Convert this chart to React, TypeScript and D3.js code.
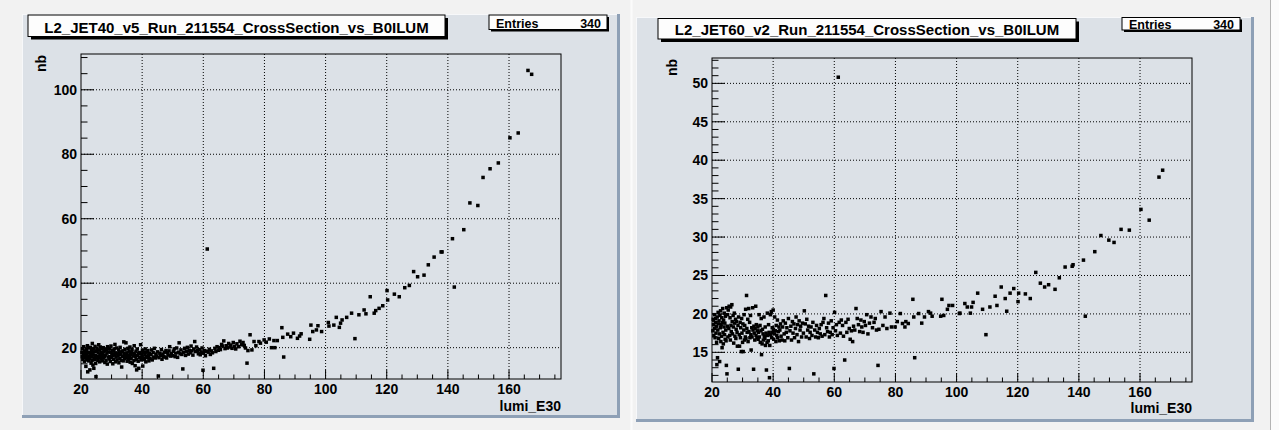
import React from 'react';
import * as d3 from 'd3';

// lumi sections shared by both triggers (lumi_E30)
const lumi = [
  20.3, 20.4, 20.5, 20.6, 20.8, 20.9, 21.0, 21.1, 21.2, 21.3,
  21.4, 21.5, 21.6, 21.7, 21.8, 21.9, 22.0, 22.1, 22.2, 22.3,
  22.4, 22.5, 22.6, 22.7, 22.8, 22.9, 23.0, 23.1, 23.2, 23.3,
  23.4, 23.5, 23.6, 23.7, 23.8, 23.9, 24.0, 24.1, 24.2, 24.3,
  24.4, 24.5, 24.6, 24.7, 24.8, 24.9, 25.0, 25.1, 25.2, 25.3,
  25.5, 25.6, 25.8, 25.9, 26.0, 26.1, 26.2, 26.3, 26.5, 26.6,
  26.7, 26.9, 27.0, 27.1, 27.3, 27.4, 27.5, 27.7, 27.8, 27.9,
  28.0, 28.2, 28.3, 28.5, 28.6, 28.7, 28.9, 29.0, 29.2, 29.3,
  29.4, 29.6, 29.7, 29.8, 30.0, 30.1, 30.2, 30.4, 30.5, 30.6,
  30.7, 30.9, 31.0, 31.1, 31.3, 31.4, 31.5, 31.7, 31.8, 32.0,
  32.1, 32.3, 32.4, 32.6, 32.7, 32.8, 33.0, 33.1, 33.3, 33.4,
  33.6, 33.7, 33.8, 34.0, 34.1, 34.3, 34.4, 34.5, 34.7, 34.8,
  35.0, 35.1, 35.2, 35.4, 35.5, 35.7, 35.8, 36.0, 36.1, 36.2,
  36.4, 36.5, 36.7, 36.8, 37.0, 37.1, 37.3, 37.4, 37.5, 37.7,
  37.8, 38.0, 38.1, 38.2, 38.4, 38.5, 38.7, 38.8, 38.9, 39.1,
  39.2, 39.4, 39.5, 39.7, 39.8, 40.0, 40.1, 40.2, 40.4, 40.5,
  40.7, 40.9, 41.0, 41.2, 41.4, 41.5, 41.7, 41.9, 42.0, 42.2,
  42.4, 42.6, 42.9, 43.1, 43.3, 43.6, 43.8, 44.0, 44.3, 44.5,
  44.8, 45.0, 45.3, 45.5, 45.8, 46.0, 46.3, 46.5, 46.8, 47.0,
  47.3, 47.5, 47.8, 48.0, 48.3, 48.5, 48.8, 49.0, 49.3, 49.6,
  49.9, 50.2, 50.5, 50.8, 51.0, 51.3, 51.6, 51.9, 52.1, 52.4,
  52.7, 53.0, 53.3, 53.6, 53.9, 54.2, 54.5, 54.8, 55.1, 55.4,
  55.7, 56.0, 56.3, 56.6, 56.9, 57.2, 57.5, 57.8, 58.1, 58.4,
  58.7, 59.0, 59.3, 59.6, 59.9, 60.1, 60.4, 60.7, 61.0, 61.3,
  61.6, 62.0, 62.3, 62.7, 63.0, 63.4, 63.8, 64.1, 64.5, 64.9,
  65.2, 65.6, 66.0, 66.3, 66.7, 67.1, 67.5, 67.9, 68.3, 68.7,
  69.0, 69.4, 69.8, 70.2, 70.6, 71.0, 71.5, 72.0, 72.5, 73.0,
  73.4, 73.8,
  74.3, 74.6, 75.3, 75.9, 76.6, 77.2, 78.2, 78.7, 79.9, 80.6,
  81.6, 82.3, 83.1, 83.4, 84.2, 85.7, 86.0, 86.3, 87.6, 88.6,
  89.5, 90.8, 91.5, 92.0, 94.8, 95.2, 95.8, 97.0, 97.5, 98.7,
  100.9, 101.1, 102.7, 103.5, 104.5, 104.9, 105.4, 106.9, 108.5, 109.6,
  110.9, 112.6, 113.2, 114.6, 115.9, 116.4, 117.5,
  118.7, 120.1, 120.3, 122.5, 124.1, 125.9, 127.4, 128.8, 130.1, 132.2,
  133.6, 135.5, 137.8, 138.1, 141.5, 142.1, 145.2, 147.2, 149.8, 151.5,
  153.8, 156.5, 160.3, 163.0, 166.2, 167.4,
];

// L2_JET40 cross section (nb)
const jet40Nb = [
  18.5, 17.2, 19.6, 16.4, 18.0, 20.3, 17.6, 15.8, 19.0, 18.3,
  16.9, 18.8, 14.2, 17.4, 19.5, 16.2, 18.1, 20.6, 12.5, 17.0,
  18.6, 15.9, 19.9, 17.3, 16.6, 13.1, 18.4, 20.1, 17.8, 15.2,
  17.1, 19.2, 16.0, 21.3, 18.2, 14.6, 17.7, 19.6, 13.6, 16.8,
  18.7, 16.3, 20.4, 17.5, 15.1, 11.0, 18.9, 16.9, 19.8, 17.3,
  16.1, 18.4, 20.9, 17.0, 19.3, 15.6, 17.9, 20.2, 16.6, 18.6,
  17.4, 19.7, 15.9, 18.2, 20.0, 16.8, 18.9, 17.2, 15.4, 19.1,
  17.7, 16.0, 19.4, 18.3, 14.9, 20.3, 17.1, 18.7, 16.5, 19.8,
  17.2, 15.7, 18.6, 20.5, 16.9, 18.0, 19.2, 15.0, 17.6, 18.9,
  16.4, 19.6, 17.8, 21.0, 15.6, 18.4, 17.1, 19.9, 16.2, 18.1,
  17.5, 19.3, 15.3, 18.6, 16.7, 20.1, 17.9, 16.1, 14.0, 18.8,
  17.3, 19.0, 15.9, 21.8, 18.2, 16.6, 19.5, 17.6, 21.5, 16.9,
  18.4, 15.8, 17.7, 19.8, 16.4, 18.9, 17.1, 20.2, 15.5, 17.9,
  16.7, 18.6, 19.5, 15.1, 17.4, 18.3, 16.0, 20.6, 17.8, 14.4,
  17.2, 18.9, 16.3, 13.1, 19.6, 17.6, 15.8, 18.2, 13.6, 16.9,
  18.5, 17.0, 20.9, 16.2, 18.1, 17.4, 19.2, 14.3, 16.8, 18.6,
  16.3, 17.9, 19.6, 15.6, 17.3, 18.6, 16.9, 19.1, 17.6, 15.9,
  18.2, 16.6, 17.8, 19.3, 16.2, 18.5, 17.1, 19.8, 16.8, 18.0,
  17.4, 18.7, 11.2, 16.9, 18.3, 17.6, 19.4, 16.4, 18.0, 17.2,
  18.6, 17.1, 19.1, 16.8, 18.4, 17.7, 19.0, 20.3, 17.4, 18.2,
  17.5, 18.9, 19.6, 17.2, 18.3, 19.9, 17.0, 18.6, 21.5, 18.1,
  19.3, 17.9, 13.4, 18.6, 19.8, 17.6, 18.9, 20.1, 18.0, 19.2,
  18.4, 20.5, 19.0, 17.7, 19.6, 21.9, 18.8, 20.2, 19.1, 18.1,
  19.4, 17.8, 18.7, 19.9, 13.0, 18.3, 19.1, 17.5, 18.9, 50.6,
  18.6, 19.5, 17.9, 19.0, 18.4, 13.6, 19.8, 18.8, 20.3, 19.2,
  20.0, 19.4, 21.0, 20.5, 22.1, 19.7, 20.6, 19.9, 21.3, 20.2,
  20.8, 19.8, 21.6, 20.4, 19.6, 21.2, 20.3, 22.0, 20.9, 21.6,
  20.7, 19.9,
  15.2, 19.1, 24.0, 19.3, 21.9, 20.6, 21.9, 21.4, 22.4, 21.7,
  22.7, 20.0, 22.2, 20.0, 22.2, 26.2, 23.2, 17.1, 24.2, 23.4,
  24.5, 22.9, 23.6, 24.3, 22.6, 27.0, 25.0, 25.5, 26.8, 25.0,
  27.8, 26.7, 27.0, 29.4, 26.3, 27.6, 28.6, 29.4, 30.7, 22.8,
  30.2, 31.7, 30.5, 35.8, 30.7, 31.5, 32.2,
  33.0, 37.7, 34.8, 36.6, 35.8, 38.6, 39.3, 43.6, 42.0, 42.5,
  45.7, 48.1, 49.7, 49.7, 53.8, 38.8, 56.6, 64.9, 64.1, 72.8,
  75.5, 77.3, 85.1, 86.6, 106.0, 104.8,
];

// L2_JET60 cross section (nb)
const jet60Nb = [
  17.8, 19.3, 18.6, 17.2, 19.9, 18.1, 16.9, 18.9, 19.4, 17.5,
  18.4, 16.3, 13.4, 19.6, 14.3, 17.9, 20.2, 18.7, 16.8, 19.1,
  17.4, 13.8, 19.8, 18.2, 20.4, 16.4, 18.6, 17.1, 19.5, 15.6,
  18.9, 20.7, 17.6, 16.1, 19.2, 18.3, 20.1, 17.3, 18.8, 16.7,
  19.7, 17.9, 16.5, 13.3, 20.8, 12.2, 18.4, 19.9, 17.0, 20.5,
  18.1, 21.0, 17.2, 19.5, 16.6, 20.9, 18.5, 17.7, 21.2, 19.0,
  17.4, 19.8, 18.3, 16.2, 20.1, 18.8, 17.1, 19.3, 16.8, 18.0,
  19.0, 17.6, 15.8, 18.5, 12.8, 19.6, 17.3, 15.8, 18.9, 16.9,
  18.2, 15.1, 19.4, 17.5, 16.3, 18.7, 15.1, 17.9, 19.9, 16.6,
  18.5, 17.0, 20.6, 16.8, 22.4, 18.1, 17.6, 19.3, 16.4, 20.7,
  17.7, 18.9, 16.9, 19.8, 17.3, 15.3, 18.2, 17.0, 20.8, 17.9,
  12.8, 18.4, 17.5, 16.6, 18.1, 21.0, 17.2, 18.6, 16.9, 17.8,
  18.3, 16.7, 17.6, 19.9, 17.0, 18.5, 16.3, 17.8, 19.4, 14.7,
  16.1, 18.0, 17.4, 16.6, 19.6, 17.1, 16.8, 18.3, 15.9, 17.5,
  12.7, 16.3, 20.1, 17.2, 16.5, 18.6, 17.6, 11.7, 15.9, 19.9,
  17.3, 20.3, 16.9, 18.2, 17.6, 20.5, 18.0, 16.7, 17.4, 19.6,
  17.8, 16.4, 18.5, 17.2, 19.2, 16.9, 17.7, 18.3, 16.5, 17.9,
  18.7, 17.1, 16.6, 18.3, 19.1, 17.4, 16.5, 18.8, 17.6, 18.2,
  16.9, 19.4, 12.9, 17.8, 18.4, 16.6, 19.0, 17.5, 18.7, 16.9,
  18.1, 19.6, 17.3, 18.6, 16.4, 19.1, 17.9, 18.4, 17.0, 18.8,
  17.5, 20.4, 18.7, 17.0, 19.3, 17.9, 18.4, 16.8, 17.6, 18.3,
  17.2, 18.9, 12.2, 17.9, 17.0, 18.5, 17.6, 16.9, 18.1, 17.4,
  18.6, 17.1, 18.9, 19.4, 17.3, 22.4, 18.2, 17.7, 18.8, 17.0,
  17.6, 19.1, 17.3, 18.2, 12.9, 20.2, 17.8, 18.6, 17.2, 50.8,
  18.9, 17.5, 19.2, 18.5, 17.1, 14.0, 18.9, 17.6, 19.3, 18.1,
  16.7, 17.8, 16.4, 18.4, 17.9, 20.7, 19.4, 18.6, 17.7, 19.2,
  18.3, 17.6, 19.0, 18.5, 19.9, 17.4, 18.8, 19.6, 18.2, 18.9,
  19.4, 17.9,
  13.3, 18.0, 20.3, 18.5, 19.6, 18.1, 20.1, 18.3, 18.3, 19.0,
  20.05, 18.75, 18.3, 19.0, 18.75, 21.9, 19.6, 14.3, 20.05, 18.8,
  19.6, 20.3, 20.1, 19.7, 19.7, 21.9, 19.8, 20.6, 21.1, 21.1,
  20.05, 20.1, 21.35, 20.9, 20.1, 20.9, 21.5, 22.7, 20.6, 17.3,
  20.9, 22.3, 21.1, 23.5, 22.0, 20.35, 22.7,
  23.3, 21.6, 22.7, 22.6, 22.0, 25.4, 24.0, 23.5, 23.8, 23.2,
  24.7, 26.1, 26.2, 26.4, 27.0, 19.7, 28.1, 30.2, 29.6, 29.3,
  31.0, 30.9, 33.6, 32.2, 37.8, 38.7,
];

const lumiTicks = [20, 40, 60, 80, 100, 120, 140, 160];
const jet40Ticks = [20, 40, 60, 80, 100];
const jet60Ticks = [15, 20, 25, 30, 35, 40, 45, 50];
const entries = 340;

const font = '"Liberation Sans", Arial, Helvetica, sans-serif';
const padFill = '#dce1e7';

type Box = { x: number; y: number; w: number; h: number };

type PanelProps = {
  pad: Box;
  frame: Box;
  title: string;
  titleBox: Box;
  titleBaseline: number;
  statBox: Box;
  statBaseline: number;
  values: number[];
  yDomain: [number, number];
  yTicks: number[];
  yMinor: number;
  xTitleBaseline: number;
};

function Panel(p: PanelProps) {
  const { frame } = p;
  const x = d3.scaleLinear().domain([20, 177]).range([frame.x, frame.x + frame.w]);
  const y = d3.scaleLinear().domain(p.yDomain).range([frame.y + frame.h, frame.y]);
  const bottom = frame.y + frame.h;
  const left = frame.x;

  const xMinor = d3.range(20, 177, 5).filter(v => !lumiTicks.includes(v));
  const yMinor = d3
    .range(Math.ceil(p.yDomain[0] / p.yMinor) * p.yMinor, p.yDomain[1], p.yMinor)
    .filter(v => !p.yTicks.includes(Math.round(v * 100) / 100));

  const pad = p.pad;
  const tb = p.titleBox;
  const sb = p.statBox;

  return (
    <g>
      <rect x={pad.x} y={pad.y} width={pad.w} height={pad.h} fill={padFill} />
      <line x1={pad.x} y1={pad.y + 0.5} x2={pad.x + pad.w} y2={pad.y + 0.5} stroke="#f7f8fa" />
      <line x1={pad.x + 0.5} y1={pad.y} x2={pad.x + 0.5} y2={pad.y + pad.h} stroke="#f7f8fa" />
      <rect x={pad.x + pad.w - 3} y={pad.y} width={3} height={pad.h} fill="#8ea0b6" />
      <rect x={pad.x} y={pad.y + pad.h - 3} width={pad.w} height={3} fill="#8ea0b6" />

      {/* grid */}
      {lumiTicks.filter(t => t > 20).map(t => (
        <line key={'gx' + t} x1={x(t)} x2={x(t)} y1={frame.y} y2={bottom}
          stroke="#000" strokeWidth={1} strokeDasharray="1 2" />
      ))}
      {p.yTicks.map(t => (
        <line key={'gy' + t} x1={left} x2={left + frame.w} y1={y(t)} y2={y(t)}
          stroke="#000" strokeWidth={1} strokeDasharray="1 2" />
      ))}

      {/* ticks */}
      {lumiTicks.map(t => (
        <line key={'tx' + t} x1={x(t)} x2={x(t)} y1={bottom} y2={bottom - 9} stroke="#000" />
      ))}
      {xMinor.map(t => (
        <line key={'mx' + t} x1={x(t)} x2={x(t)} y1={bottom} y2={bottom - 4.5} stroke="#000" />
      ))}
      {p.yTicks.map(t => (
        <line key={'ty' + t} x1={left} x2={left + 13} y1={y(t)} y2={y(t)} stroke="#000" />
      ))}
      {yMinor.map(t => (
        <line key={'my' + t} x1={left} x2={left + 6.5} y1={y(t)} y2={y(t)} stroke="#000" />
      ))}

      {/* points */}
      {lumi.map((l, i) => (
        <rect key={'p' + i} x={x(l) - 1.75} y={y(p.values[i]) - 1.75} width={3.5} height={3.5} fill="#000" />
      ))}

      <rect x={frame.x} y={frame.y} width={frame.w} height={frame.h} fill="none" stroke="#000" strokeWidth={1} />

      {/* tick labels */}
      {lumiTicks.map(t => (
        <text key={'lx' + t} x={x(t)} y={bottom + 15} textAnchor="middle"
          fontFamily={font} fontWeight="bold" fontSize={14}>{t}</text>
      ))}
      {p.yTicks.map(t => (
        <text key={'ly' + t} x={left - 4} y={y(t) + 5} textAnchor="end"
          fontFamily={font} fontWeight="bold" fontSize={14}>{t}</text>
      ))}
      <text x={frame.x + frame.w} y={p.xTitleBaseline} textAnchor="end"
        fontFamily={font} fontWeight="bold" fontSize={14}>lumi_E30</text>
      <text transform={`translate(${left - 35},${frame.y + 1}) rotate(-90)`} textAnchor="end"
        fontFamily={font} fontWeight="bold" fontSize={14}>nb</text>

      {/* title */}
      <rect x={tb.x + 3} y={tb.y + 3} width={tb.w} height={tb.h} fill="#000" />
      <rect x={tb.x} y={tb.y} width={tb.w} height={tb.h} fill="#fdfdfd" stroke="#000" />
      <text x={tb.x + tb.w / 2} y={p.titleBaseline} textAnchor="middle"
        fontFamily={font} fontWeight="bold" fontSize={15}>{p.title}</text>

      {/* stats */}
      <rect x={sb.x + 2} y={sb.y + 2} width={sb.w} height={sb.h} fill="#000" />
      <rect x={sb.x} y={sb.y} width={sb.w} height={sb.h} fill="#fdfdfd" stroke="#000" />
      <text x={sb.x + 7} y={p.statBaseline} fontFamily={font} fontWeight="bold" fontSize={12.5}>Entries</text>
      <text x={sb.x + sb.w - 6} y={p.statBaseline} textAnchor="end"
        fontFamily={font} fontWeight="bold" fontSize={12.5}>{entries}</text>
    </g>
  );
}

export default function App() {
  return (
    <svg width={1279} height={430} style={{ position: 'absolute', left: 0, top: 0 }}>
      <rect x={0} y={0} width={1279} height={430} fill="#f2f2f2" />
      <rect x={1270} y={0} width={9} height={430} fill="#fbfbfb" />
      <line x1={1270.5} y1={0} x2={1270.5} y2={430} stroke="#b4b4b4" />
      <line x1={631.5} y1={0} x2={631.5} y2={430} stroke="#fbfbfb" strokeWidth={2} />
      <Panel
        pad={{ x: 22, y: 14, w: 598, h: 404 }}
        frame={{ x: 81, y: 54, w: 480, h: 325 }}
        title="L2_JET40_v5_Run_211554_CrossSection_vs_B0ILUM"
        titleBox={{ x: 28, y: 15, w: 417, h: 21.5 }}
        titleBaseline={32.5}
        statBox={{ x: 489, y: 15, w: 118, h: 14.5 }}
        statBaseline={28}
        values={jet40Nb}
        yDomain={[10.28, 111.1]}
        yTicks={jet40Ticks}
        yMinor={5}
        xTitleBaseline={411}
      />
      <Panel
        pad={{ x: 636, y: 17, w: 618, h: 405 }}
        frame={{ x: 712, y: 58, w: 480, h: 324 }}
        title="L2_JET60_v2_Run_211554_CrossSection_vs_B0ILUM"
        titleBox={{ x: 658, y: 18.5, w: 418, h: 20.5 }}
        titleBaseline={35}
        statBox={{ x: 1122, y: 17.5, w: 118, h: 12.5 }}
        statBaseline={29}
        values={jet60Nb}
        yDomain={[11.14, 53.3]}
        yTicks={jet60Ticks}
        yMinor={1}
        xTitleBaseline={413}
      />
    </svg>
  );
}
